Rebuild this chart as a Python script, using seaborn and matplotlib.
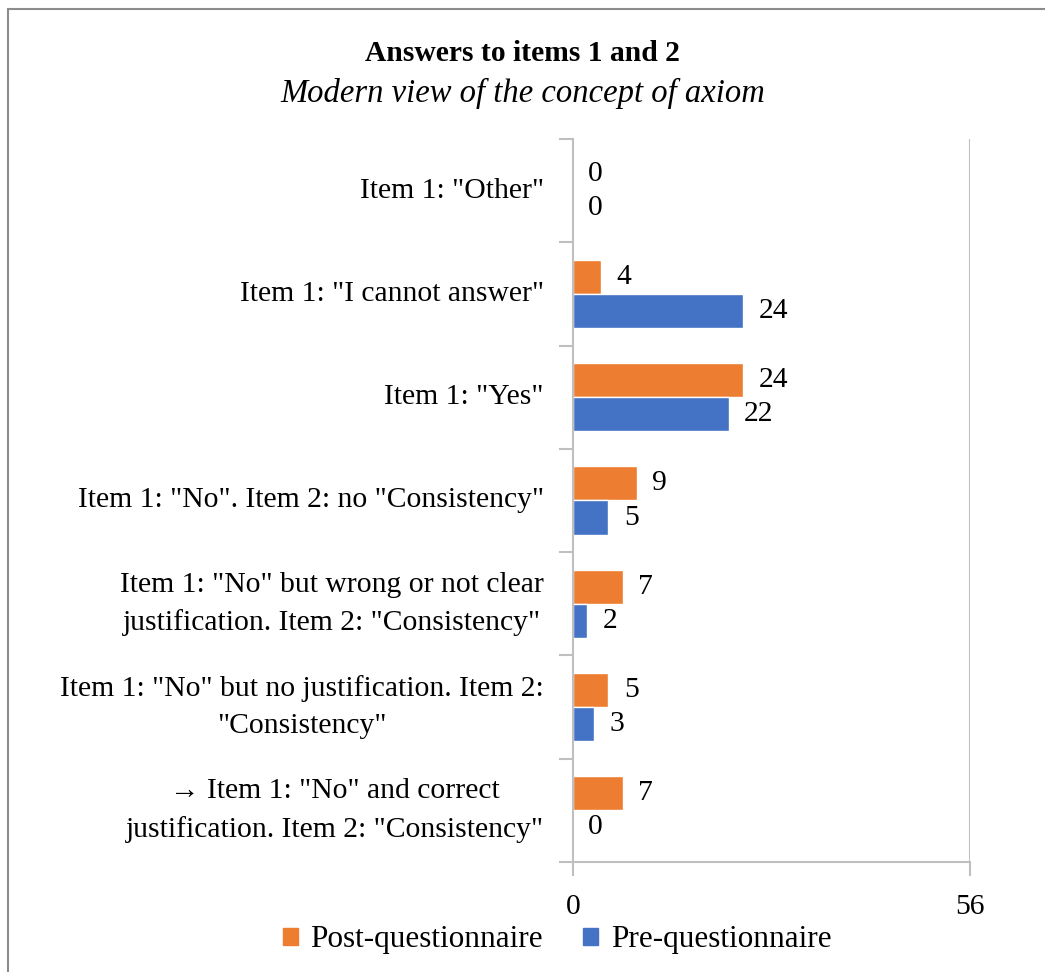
import matplotlib
matplotlib.use("Agg")
import matplotlib.pyplot as plt
from matplotlib.patches import Rectangle
import seaborn as sns
import pandas as pd

categories = [
    'Item 1: "Other"',
    'Item 1: "I cannot answer"',
    'Item 1: "Yes"',
    'Item 1: "No". Item 2: no "Consistency"',
    'Item 1: "No" but wrong or not clear\njustification. Item 2: "Consistency"',
    'Item 1: "No" but no justification. Item 2:\n"Consistency"',
    '\u2192 Item 1: "No" and correct\njustification. Item 2: "Consistency"',
]
post_values = [0, 4, 24, 9, 7, 5, 7]
pre_values = [0, 24, 22, 5, 2, 3, 0]
series = ["Post-questionnaire", "Pre-questionnaire"]
colors = ["#ED7D31", "#4472C4"]
x_max = 56

df = pd.DataFrame({
    "category": categories * 2,
    "value": post_values + pre_values,
    "series": [series[0]] * len(categories) + [series[1]] * len(categories),
})

sns.set_theme(style="white")
plt.rcParams["font.family"] = ["Liberation Serif", "DejaVu Serif"]
plt.rcParams["text.color"] = "black"
plt.rcParams["xtick.color"] = "black"
plt.rcParams["ytick.color"] = "black"

FS = 21.3

fig = plt.figure(figsize=(10.45, 9.72), dpi=100)
ax = fig.add_axes([0.5483, 0.1132, 0.3799, 0.7438])

sns.barplot(data=df, y="category", x="value", hue="series", order=categories,
            hue_order=series, palette=colors, orient="h", width=0.66,
            saturation=1, ax=ax, legend=False)

for cont in ax.containers:
    ax.bar_label(cont, padding=11, fontsize=FS, color="black")

grey = "#BFBFBF"
ax.set_xlim(0, x_max)
ax.set_ylim(len(categories) - 0.5, -0.5)
ax.set_xticks([0, x_max])
ax.set_xticklabels(["0", str(x_max)], fontsize=FS)
ax.set_xlabel("")
ax.set_ylabel("")
ax.axvline(x_max, color=grey, lw=1.5, zorder=0)

ax.set_yticks(range(len(categories)))
ax.set_yticklabels(categories, fontsize=FS, multialignment="center",
                   linespacing=1.55, va="center")
ax.tick_params(axis="y", which="major", length=0, pad=21)
ax.set_yticks([i - 0.5 for i in range(len(categories) + 1)], minor=True)
ax.tick_params(axis="y", which="minor", length=10, width=1.5, color=grey, left=True)
ax.tick_params(axis="x", which="major", length=10, width=1.5, color=grey,
               bottom=True, pad=13, labelcolor="black")

for side in ["top", "right"]:
    ax.spines[side].set_visible(False)
for side in ["left", "bottom"]:
    ax.spines[side].set_color(grey)
    ax.spines[side].set_linewidth(1.5)

fig.text(0.5, 0.945, "Answers to items 1 and 2", ha="center", va="center",
         fontsize=FS, fontweight="bold")
fig.text(0.5, 0.904, "Modern view of the concept of axiom", ha="center",
         va="center", fontsize=23.5, fontstyle="italic")

handles = [Rectangle((0, 0), 1, 1, color=c) for c in colors]
fig.legend(handles, series, loc="center", bbox_to_anchor=(0.533, 0.033),
           ncol=2, frameon=False, fontsize=22.5, handlelength=0.48,
           handleheight=0.48, handletextpad=0.4, columnspacing=1.3)

fig.patches.append(Rectangle((8 / 1045, -0.2), 1.2, 1.2 - 9 / 972,
                             transform=fig.transFigure, fill=False,
                             edgecolor="#8C8C8C", lw=1.5))

fig.savefig("out.png", dpi=100, facecolor="white")
